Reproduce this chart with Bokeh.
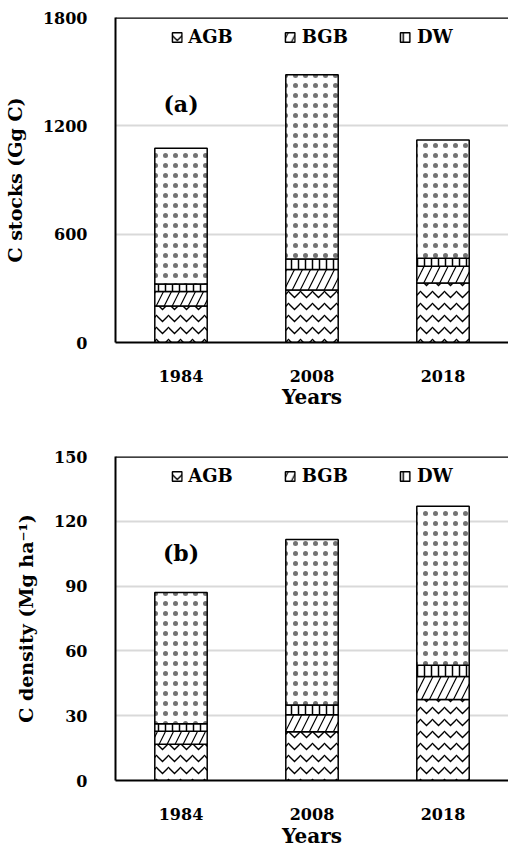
from bokeh.plotting import figure
from bokeh.models import (FactorRange, FixedTicker, Legend, LegendItem, Label,
                          Span, Range1d, ColumnDataSource)
from bokeh.layouts import column
from bokeh.embed import file_html
from bokeh.resources import INLINE

# ---- data ----
years = ["1984", "2008", "2018"]
components = ["AGB", "BGB", "DW", "SOC"]
legend_components = ["AGB", "BGB", "DW"]

# (a) C stocks (Gg C)
stock_agb = [202, 291, 330]
stock_bgb = [80, 113, 92]
stock_dw = [42, 59, 45]
stock_soc = [752, 1020, 655]
stock_ticks = [0, 600, 1200, 1800]

# (b) C density (Mg ha-1)
dens_agb = [16.8, 22.6, 37.5]
dens_bgb = [6.0, 7.8, 10.7]
dens_dw = [3.5, 4.6, 5.2]
dens_soc = [60.7, 76.6, 73.6]
dens_ticks = [0, 30, 60, 90, 120, 150]

FONT = "DejaVu Serif"
hatches = ["horizontal_wave", "right_diagonal_line", "vertical_line", "dot"]
hscales = [12, 16, 7, 10]
hweights = [1.4, 1.2, 1.5, 0.3]
halphas = [1.0, 1.0, 1.0, 0.55]


def make(vals, ticks, ylabel, tag, tag_y, height, top, bottom, lab_standoff, title_standoff):
    src = ColumnDataSource(dict(year=years, AGB=vals[0], BGB=vals[1], DW=vals[2], SOC=vals[3]))
    p = figure(x_range=FactorRange(*years, range_padding=0),
               y_range=Range1d(ticks[0], ticks[-1]),
               width=508, height=height, output_backend="svg", toolbar_location=None,
               min_border_left=108, min_border_right=0, min_border_top=top,
               min_border_bottom=bottom)
    p.outline_line_color = None
    rs = p.vbar_stack(components, x="year", width=0.4, source=src,
                      fill_color="white", line_color="black", line_width=1.5,
                      hatch_pattern=hatches, hatch_scale=hscales, hatch_weight=hweights,
                      hatch_alpha=halphas, hatch_color="black")
    # axes
    p.xgrid.grid_line_color = None
    p.ygrid.grid_line_color = "#d9d9d9"
    p.ygrid.grid_line_width = 2
    p.yaxis.ticker = FixedTicker(ticks=ticks)
    for ax in (p.xaxis[0], p.yaxis[0]):
        ax.axis_line_width = 2
        ax.axis_line_color = "black"
        ax.major_tick_line_color = None
        ax.minor_tick_line_color = None
        ax.major_label_text_font = FONT
        ax.major_label_text_font_style = "bold"
        ax.major_label_text_font_size = "16px"
        ax.major_label_text_color = "black"
        ax.axis_label_text_font = FONT
        ax.axis_label_text_font_style = "bold"
        ax.axis_label_text_color = "black"
    p.xaxis.major_label_standoff = lab_standoff
    p.xaxis.axis_label = "Years"
    p.xaxis.axis_label_text_font_size = "20px"
    p.xaxis.axis_label_standoff = title_standoff
    p.yaxis.major_label_standoff = 22
    p.yaxis.axis_label = ylabel
    p.yaxis.axis_label_text_font_size = "19px"
    p.yaxis.axis_label_standoff = 14
    # top border line of the frame
    p.add_layout(Span(location=ticks[-1], dimension="width", line_color="black",
                      line_width=2.5))
    # legend
    items = [LegendItem(label=n, renderers=[rs[i]]) for i, n in enumerate(legend_components)]
    leg = Legend(items=items, orientation="horizontal", location="top_center",
                 border_line_color=None, background_fill_alpha=0,
                 label_text_font=FONT, label_text_font_style="bold",
                 label_text_color="black",
                 label_text_font_size="18px", glyph_width=12, glyph_height=12,
                 label_standoff=6, spacing=51, padding=4, margin=9)
    p.add_layout(leg)
    p.add_layout(Label(x=0.5, y=tag_y, text=tag, text_align="center",
                       text_baseline="middle", text_font=FONT, text_font_style="bold",
                       text_font_size="22px", text_color="black"))
    return p


pa = make([stock_agb, stock_bgb, stock_dw, stock_soc], stock_ticks,
          "C stocks (Gg C)", "(a)", 1320, 428, 17, 86, 21, 0)
pb = make([dens_agb, dens_bgb, dens_dw, dens_soc], dens_ticks,
          "C density (Mg ha\u207b\u00b9)", "(b)", 105.5, 422, 28, 67, 21, 1)

layout = column(pa, pb, spacing=0)
open("out.html", "w").write(file_html(layout, INLINE))
